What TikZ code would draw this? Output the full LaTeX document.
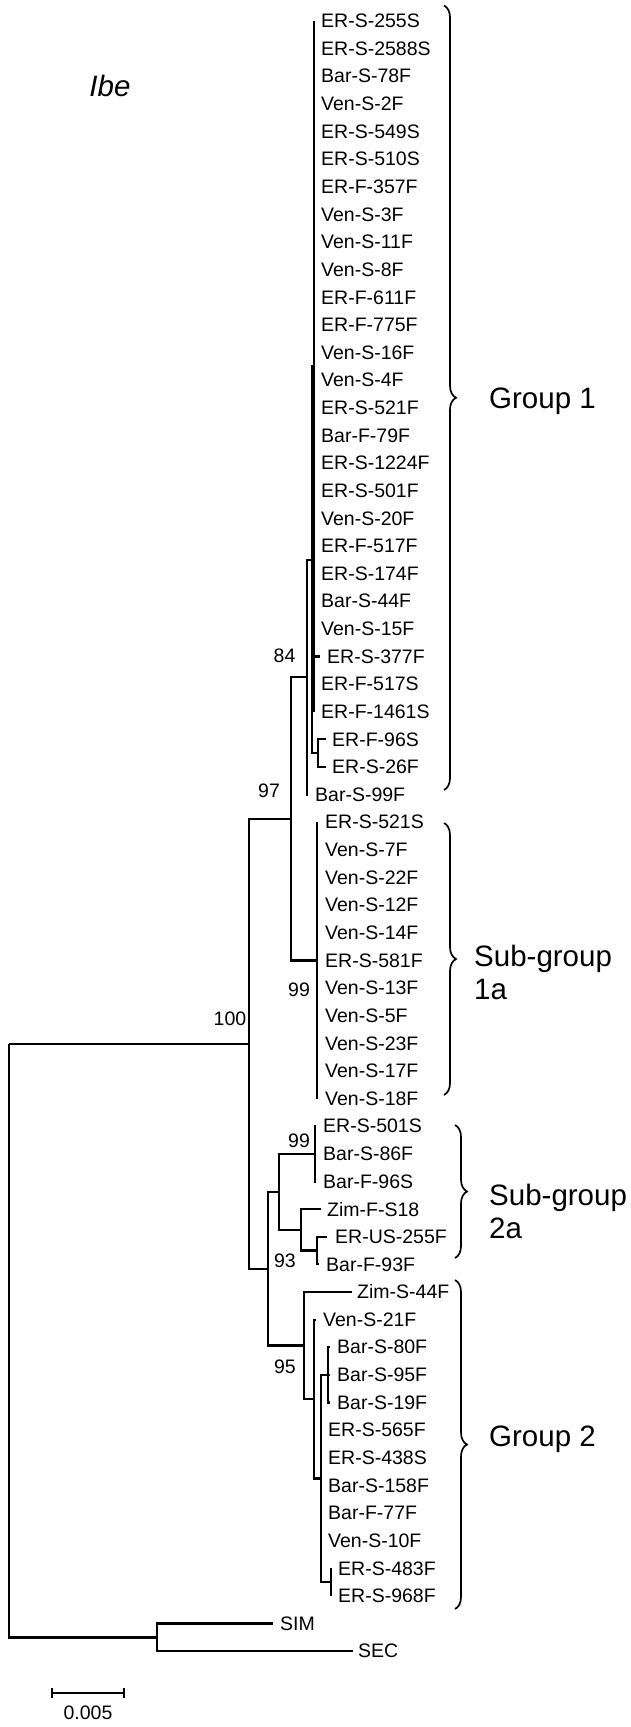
\documentclass[tikz,border=0pt]{standalone}
\usepackage{fontspec}
\setmainfont{Liberation Sans}
\usetikzlibrary{decorations.pathreplacing}

\begin{document}
\begin{tikzpicture}[x=1pt, y=-1pt,
    branch/.style={line width=2.2pt},
    taxon/.style={anchor=west, inner sep=0pt, font=\fontsize{19.5}{20}\selectfont},
    boot/.style={inner sep=0pt, font=\fontsize{19.5}{20}\selectfont},
    group/.style={anchor=north west, inner sep=0pt, align=left, font=\fontsize{29.5}{33}\selectfont},
    bracket/.style={line width=1.7pt, decorate, decoration={brace, amplitude=12pt}}]
    \useasboundingbox (0,0) rectangle (631,1727);

    \coordinate (root) at (9,1043.7);
    \coordinate (n100) at (249,1043.7);
    \coordinate (n97) at (291,818.8);
    \coordinate (n84) at (307,677.2);
    \coordinate (nB) at (312,559.8);
    \coordinate (nA) at (314,366.4);
    \coordinate (nC) at (318,753.2);
    \coordinate (n99a) at (317,960.4);
    \coordinate (n93) at (268,1268.7);
    \coordinate (nP) at (279,1191.8);
    \coordinate (n99b) at (315,1153.8);
    \coordinate (nZ) at (301,1229.8);
    \coordinate (nD) at (317,1250.5);
    \coordinate (n95) at (304,1345.5);
    \coordinate (nS1) at (314,1399.1);
    \coordinate (nS2) at (321,1478.5);
    \coordinate (nG) at (328,1374.9);
    \coordinate (nH) at (331,1582.1);
    \coordinate (nO) at (157,1637.4);

    \draw [branch] (root) -- (n100);
    \draw [branch] (root) |- (nO);
    \draw [branch] (n100) |- (n97);
    \draw [branch] (n100) |- (n93);
    \draw [branch] (n97) |- (n84);
    \draw [branch] (n97) |- (n99a);
    \draw [branch] (n84) |- (nB);
    \draw [branch] (nB) |- (nA);
    \draw [branch] (nB) |- (nC);
    \draw [branch] (n93) |- (nP);
    \draw [branch] (n93) |- (n95);
    \draw [branch] (nP) |- (n99b);
    \draw [branch] (nP) |- (nZ);
    \draw [branch] (nZ) |- (nD);
    \draw [branch] (n95) |- (nS1);
    \draw [branch] (nS1) |- (nS2);
    \draw [branch] (nS2) |- (nG);
    \draw [branch] (nS2) |- (nH);

    \foreach \i/\lab in {0/ER-S-255S, 1/ER-S-2588S, 2/Bar-S-78F, 3/Ven-S-2F, 4/ER-S-549S,
        5/ER-S-510S, 6/ER-F-357F, 7/Ven-S-3F, 8/Ven-S-11F, 9/Ven-S-8F, 10/ER-F-611F,
        11/ER-F-775F, 12/Ven-S-16F, 13/Ven-S-4F, 14/ER-S-521F, 15/Bar-F-79F,
        16/ER-S-1224F, 17/ER-S-501F, 18/Ven-S-20F, 19/ER-F-517F, 20/ER-S-174F,
        21/Bar-S-44F, 22/Ven-S-15F, 24/ER-F-517S, 25/ER-F-1461S} {
      \node [taxon] (t\i) at (321,{21+27.63*\i}) {\lab};
      \draw [branch] (nA) |- ([xshift=-7pt]t\i.west);
    }
    \node [taxon] (t23) at (327,{21+27.63*23}) {ER-S-377F};
    \draw [branch] (nA) |- ([xshift=-7pt]t23.west);

    \foreach \i/\lab in {26/ER-F-96S, 27/ER-S-26F} {
      \node [taxon] (t\i) at (332,{21+27.63*\i}) {\lab};
      \draw [branch] (nC) |- ([xshift=-6pt]t\i.west);
    }
    \node [taxon] (t28) at (315,{21+27.63*28}) {Bar-S-99F};
    \draw [branch] (n84) |- ([xshift=-7pt]t28.west);

    \foreach \i/\lab in {29/ER-S-521S, 30/Ven-S-7F, 31/Ven-S-22F, 32/Ven-S-12F,
        33/Ven-S-14F, 34/ER-S-581F, 35/Ven-S-13F, 36/Ven-S-5F, 37/Ven-S-23F,
        38/Ven-S-17F, 39/Ven-S-18F} {
      \node [taxon] (t\i) at (325,{21+27.63*\i}) {\lab};
      \draw [branch] (n99a) |- ([xshift=-8pt]t\i.west);
    }

    \foreach \i/\lab in {40/ER-S-501S, 41/Bar-S-86F, 42/Bar-F-96S} {
      \node [taxon] (t\i) at (323,{21+27.63*\i}) {\lab};
      \draw [branch] (n99b) |- ([xshift=-7pt]t\i.west);
    }
    \node [taxon] (t43) at (327,{21+27.63*43}) {Zim-F-S18};
    \draw [branch] (nZ) |- ([xshift=-6pt]t43.west);
    \node [taxon] (t44) at (335,{21+27.63*44}) {ER-US-255F};
    \draw [branch] (nD) |- ([xshift=-8pt]t44.west);
    \node [taxon] (t45) at (326,{21+27.63*45}) {Bar-F-93F};
    \draw [branch] (nD) |- ([xshift=-7pt]t45.west);

    \node [taxon] (t46) at (357,{21+27.63*46}) {Zim-S-44F};
    \draw [branch] (n95) |- ([xshift=-5pt]t46.west);
    \node [taxon] (t47) at (323,{21+27.63*47}) {Ven-S-21F};
    \draw [branch] (nS1) |- ([xshift=-7pt]t47.west);
    \foreach \i/\lab in {48/Bar-S-80F, 49/Bar-S-95F, 50/Bar-S-19F} {
      \node [taxon] (t\i) at (337,{21+27.63*\i}) {\lab};
      \draw [branch] (nG) |- ([xshift=-7pt]t\i.west);
    }
    \foreach \i/\lab in {51/ER-S-565F, 52/ER-S-438S, 53/Bar-S-158F, 54/Bar-F-77F, 55/Ven-S-10F} {
      \node [taxon] (t\i) at (328,{21+27.63*\i}) {\lab};
      \draw [branch] (nS2) |- ([xshift=-7pt]t\i.west);
    }
    \foreach \i/\lab in {56/ER-S-483F, 57/ER-S-968F} {
      \node [taxon] (t\i) at (338,{21+27.63*\i}) {\lab};
      \draw [branch] (nH) |- ([xshift=-7pt]t\i.west);
    }

    \node [taxon] (sim) at (280,{21+27.63*58}) {SIM};
    \draw [branch] (nO) |- ([xshift=-7pt]sim.west);
    \node [taxon] (sec) at (358,{21+27.63*59}) {SEC};
    \draw [branch] (nO) |- ([xshift=-5pt]sec.west);

    \node [boot] (b84) at (284.5,655.5) {84};
    \node [boot] (b97) at (269,791) {97};
    \node [boot] (b100) at (230,1019) {100};
    \node [boot] (b99a) at (299,989.5) {99};
    \node [boot] (b99b) at (299,1140.5) {99};
    \node [boot] (b93) at (285,1260.5) {93};
    \node [boot] (b95) at (285,1367) {95};

    \node [font=\fontsize{29.5}{30}\selectfont\itshape, inner sep=0pt] (gene) at (110,86) {Ibe};

    \draw [bracket] (444,5.5) -- (444,790);
    \draw [bracket] (444,823) -- (444,1095);
    \draw [bracket] (455,1125) -- (455,1258);
    \draw [bracket] (455,1280) -- (455,1609);
    \node [group] (grp1) at (489,388) {Group 1};
    \node [group] (sub1a) at (474,945) {Sub-group\\1a};
    \node [group] (sub2a) at (489,1184) {Sub-group\\2a};
    \node [group] (grp2) at (489,1426) {Group 2};

    \coordinate (barl) at (52,1693);
    \coordinate (barr) at (124,1693);
    \draw [line width=1.8pt] (barl) -- (barr);
    \draw [line width=1.8pt] ([yshift=-5pt]barl) -- ([yshift=5pt]barl);
    \draw [line width=1.8pt] ([yshift=-5pt]barr) -- ([yshift=5pt]barr);
    \node [boot] (barlab) at (88,1713) {0.005};
  \end{tikzpicture}
\end{document}
